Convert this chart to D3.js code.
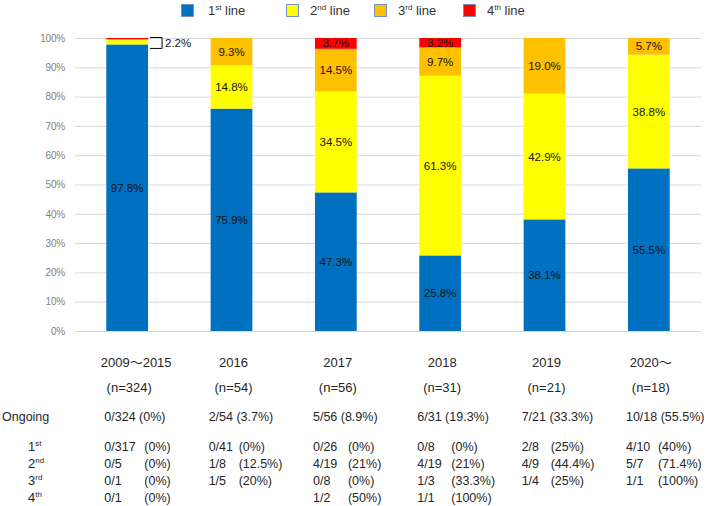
<!DOCTYPE html>
<html>
<head>
<meta charset="utf-8">
<script src="https://cdn.jsdelivr.net/npm/d3@7/dist/d3.min.js"></script>
<style>
  html, body { margin: 0; padding: 0; background: #fff; }
  svg { display: block; font-family: "Liberation Sans", Arial, "Noto Sans CJK JP", sans-serif; }
</style>
</head>
<body>
<svg id="chart" width="709" height="506"></svg>
<script>
// ---------------- DATA ----------------
const categories = ["2009～2015", "2016", "2017", "2018", "2019", "2020～"];
const nLabels = ["(n=324)", "(n=54)", "(n=56)", "(n=31)", "(n=21)", "(n=18)"];
const seriesNames = ["1st line", "2nd line", "3rd line", "4th line"];
const line1 = [97.8, 75.9, 47.3, 25.8, 38.1, 55.5];
const line2 = [1.5, 14.8, 34.5, 61.3, 42.9, 38.8];
const line3 = [0.3, 9.3, 14.5, 9.7, 19.0, 5.7];
const line4 = [0.4, 0, 3.7, 3.2, 0, 0];
const smallGroupLabel = "2.2%";
const yTicks = [0, 10, 20, 30, 40, 50, 60, 70, 80, 90, 100];
const ongoingLabel = "Ongoing";
const ongoing = ["0/324 (0%)", "2/54 (3.7%)", "5/56 (8.9%)", "6/31 (19.3%)", "7/21 (33.3%)", "10/18 (55.5%)"];
const rowLabels = [["1", "st"], ["2", "nd"], ["3", "rd"], ["4", "th"]];
const frac1 = ["0/317", "0/41", "0/26", "0/8", "2/8", "4/10"];
const pct1  = ["(0%)", "(0%)", "(0%)", "(0%)", "(25%)", "(40%)"];
const frac2 = ["0/5", "1/8", "4/19", "4/19", "4/9", "5/7"];
const pct2  = ["(0%)", "(12.5%)", "(21%)", "(21%)", "(44.4%)", "(71.4%)"];
const frac3 = ["0/1", "1/5", "0/8", "1/3", "1/4", "1/1"];
const pct3  = ["(0%)", "(20%)", "(0%)", "(33.3%)", "(25%)", "(100%)"];
const frac4 = ["0/1", "", "1/2", "1/1", "", ""];
const pct4  = ["(0%)", "", "(50%)", "(100%)", "", ""];

// ---------------- LAYOUT ----------------
const colors = ["#0070C0", "#FFFF00", "#FFC000", "#FF0000"];
const svg = d3.select("#chart");
const plot = { left: 75, right: 701, top: 38, bottom: 331 };

const x = d3.scaleBand().domain(categories).range([plot.left, plot.right])
  .paddingInner(0.6).paddingOuter(0.3);
const y = d3.scaleLinear().domain([0, 100]).range([plot.bottom, plot.top]);

// gridlines
svg.append("g").selectAll("line").data(yTicks).join("line")
  .attr("x1", plot.left).attr("x2", plot.right)
  .attr("y1", d => y(d) + 0.5).attr("y2", d => y(d) + 0.5)
  .attr("stroke", "#d9d9d9").attr("stroke-width", 1);

// y axis labels
const yAxis = d3.axisLeft(y).tickValues(yTicks).tickFormat(d => d + "%").tickSize(0).tickPadding(0);
const ya = svg.append("g").attr("transform", `translate(65,0)`).call(yAxis);
ya.select(".domain").remove();
ya.selectAll("text").attr("fill", "#7f7f7f").attr("font-size", "10px")
  .attr("font-family", "'Liberation Sans', Arial, sans-serif").attr("letter-spacing", "-0.2px");

// stacked data
const table = categories.map((c, i) => ({ cat: c, s0: line1[i], s1: line2[i], s2: line3[i], s3: line4[i] }));
const stack = d3.stack().keys(["s0", "s1", "s2", "s3"]);
const stacked = stack(table);

const layers = svg.append("g").selectAll("g").data(stacked).join("g")
  .attr("fill", (d, i) => colors[i]);
layers.selectAll("rect").data(d => d).join("rect")
  .attr("x", d => x(d.data.cat))
  .attr("width", x.bandwidth())
  .attr("y", d => y(d[1]))
  .attr("height", d => Math.max(0, y(d[0]) - y(d[1])));

// segment labels
const labG = svg.append("g");
stacked.forEach((layer, li) => {
  layer.forEach(d => {
    const v = d[1] - d[0];
    if (v < 3) return;
    labG.append("text")
      .attr("x", x(d.data.cat) + x.bandwidth() / 2)
      .attr("y", y((d[0] + d[1]) / 2))
      .attr("dy", "0.35em")
      .attr("text-anchor", "middle")
      .attr("font-size", "11.5px")
      .attr("fill", "#141414")
      .text(v.toFixed(1) + "%");
  });
});

// bracket annotation for first group small segments
{
  const bx = x(categories[0]) + x.bandwidth();
  const yTop = y(100), yBot = y(line1[0]) + 4;
  svg.append("path")
    .attr("d", `M${bx + 2},${yTop - 0.5}H${bx + 14}V${yBot}H${bx + 2}`)
    .attr("fill", "none").attr("stroke", "#000").attr("stroke-width", 1);
  svg.append("text")
    .attr("x", bx + 17).attr("y", (yTop + yBot) / 2).attr("dy", "0.35em")
    .attr("font-size", "11.5px").attr("fill", "#141414").text(smallGroupLabel);
}

// legend
const legendX = [181, 286, 374, 463];
const legend = svg.append("g");
seriesNames.forEach((name, i) => {
  const g = legend.append("g").attr("transform", `translate(${legendX[i]},4)`);
  g.append("rect").attr("x", 0.5).attr("y", 0.5).attr("width", 12).attr("height", 12)
    .attr("fill", colors[i]).attr("stroke", "#7a8fc0").attr("stroke-width", 1);
  const m = name.match(/^(\d)(\w\w) (.*)$/);
  const t = g.append("text").attr("x", 27 - (i === 0 ? 0 : 3)).attr("y", 11)
    .attr("font-size", "13px").attr("fill", "#333");
  t.append("tspan").text(m[1]);
  t.append("tspan").attr("font-size", "8px").attr("dy", "-5").text(m[2]);
  t.append("tspan").attr("dy", "5").text(" " + m[3]);
});

// category labels under axis
const tbl = svg.append("g").attr("fill", "#262626").attr("font-size", "13px");
tbl.selectAll("text.cat").data(categories).join("text").attr("class", "cat")
  .attr("x", (d, i) => x(d) + x.bandwidth() / 2 + (i === 0 ? 9 : 2))
  .attr("y", 367).attr("text-anchor", "middle").text(d => d);
tbl.selectAll("text.n").data(nLabels).join("text").attr("class", "n")
  .attr("x", (d, i) => x(categories[i]) + x.bandwidth() / 2 + 2)
  .attr("y", 392).attr("text-anchor", "middle").text(d => d);

// Ongoing row
tbl.append("text").attr("x", 2).attr("y", 421).attr("font-size", "12.5px").text(ongoingLabel);
tbl.selectAll("text.og").data(ongoing).join("text").attr("class", "og")
  .attr("x", (d, i) => x(categories[i]) - 2).attr("y", 421).attr("font-size", "12.5px").text(d => d);

// detail rows
const rowsY = [451, 468, 485, 502];
const fracs = [frac1, frac2, frac3, frac4];
const pcts = [pct1, pct2, pct3, pct4];
const pctOff = [38, 28, 33, 32, 27, 30];
rowLabels.forEach((rl, r) => {
  const t = tbl.append("text").attr("x", 28).attr("y", rowsY[r]);
  t.append("tspan").text(rl[0]);
  t.append("tspan").attr("font-size", "8px").attr("dy", "-5").text(rl[1]);
  categories.forEach((c, i) => {
    if (fracs[r][i]) tbl.append("text").attr("x", x(c) - 2).attr("y", rowsY[r]).attr("font-size", "12.5px").text(fracs[r][i]);
    if (pcts[r][i]) tbl.append("text").attr("x", x(c) + pctOff[i]).attr("y", rowsY[r]).attr("font-size", "12.5px").text(pcts[r][i]);
  });
});
</script>
</body>
</html>
